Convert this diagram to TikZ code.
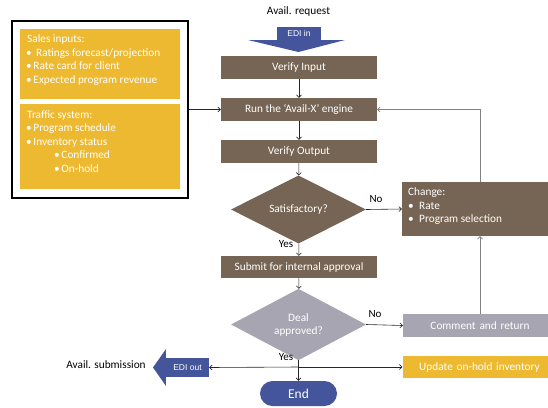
\documentclass[tikz,border=0pt]{standalone}
\usepackage{fontspec}
\setmainfont{Carlito}
\newfontfamily\arialf{Liberation Sans}
\usetikzlibrary{arrows.meta,shapes.geometric}
\definecolor{brn}{RGB}{118,101,84}
\definecolor{gld}{RGB}{237,185,48}
\definecolor{gry}{RGB}{167,165,178}
\definecolor{blu}{RGB}{69,85,155}
\newcommand\bl{\makebox[6.3pt][l]{\hspace{-1pt}•}}
\newcommand\blw{\makebox[11pt][l]{•}}
\begin{document}
\begin{tikzpicture}[x=1pt,y=-1pt,
  txt/.style={font=\fontsize{11.3}{13}\selectfont},
  box/.style={txt, fill=brn, text=white, minimum width=156pt, minimum height=23pt, inner sep=0pt},
  dia/.style={txt, diamond, text=white, minimum width=135pt, minimum height=53pt, inner sep=0pt, align=center},
  rbox/.style={txt, text=white, minimum width=145pt, minimum height=23pt, inner sep=0pt, text width=145pt, align=center},
  lbl/.style={font=\fontsize{11}{13}\selectfont, text=black, inner sep=0pt},
  edi/.style={fill=blu, text=white, inner sep=0pt, font=\arialf\fontsize{8.5}{10}\selectfont},
  con/.style={draw=black!85, line width=0.6pt, -{Straight Barb[length=2.5pt,width=5pt]}},
  gcon/.style={con, draw=black!50},
  list/.style={text=white, anchor=north west, align=left, inner sep=0pt, font=\fontsize{11.3}{13.6}\selectfont}
]
\useasboundingbox (0,0) rectangle (548,407);
% left input panel
\node[draw=black, line width=1.2pt, minimum width=176pt, minimum height=177pt, inner sep=0pt] (outer) at (100,109.5) {};
\node[fill=gld, minimum width=160pt, minimum height=70pt, inner sep=0pt] (sales) at (100,64) {};
\node[fill=gld, minimum width=160pt, minimum height=85pt, inner sep=0pt] (traf) at (100,146.5) {};
\node[list] (salest) at (27,34.5) {Sales inputs:\\ \bl\hspace{2.7pt}Ratings forecast/projection\\ \bl Rate card for client\\ \bl Expected program revenue};
\node[list] (traft) at (27,110) {Traffic system:\\ \bl Program schedule\\ \bl Inventory status\\ \hspace{28pt}\bl Confirmed\\ \hspace{28pt}\bl On-hold};
% top
\node[txt, inner sep=0pt] (req) at (298.5,11) {Avail. request};
\node[edi, minimum width=44pt, minimum height=13pt] (edii) at (299,33.5) {EDI in};
\fill[blu] (edii.south west) -- (248,40) -- (298.5,52) -- (345,40) -- (edii.south east) -- cycle;
% main column
\node[box] (vi) at (299,67.5) {Verify Input};
\node[box] (run) at (299,109.5) {Run the ‘Avail-X’ engine};
\node[box] (vo) at (299,151.5) {Verify Output};
\node[dia, fill=brn] (sat) at (298.5,209.5) {Satisfactory?};
\node[box, minimum height=22pt] (sub) at (299,267) {Submit for internal approval};
\node[dia, fill=gry] (deal) at (298.5,324.5) {Deal\\approved?};
\node[fill=blu, text=white, rounded corners=12.5pt, minimum width=77pt, minimum height=25pt, inner sep=0pt, font=\fontsize{13.5}{15}\selectfont] (end) at (298.5,393.5) {End};
% right column
\node[fill=brn, minimum width=146pt, minimum height=54pt, inner sep=0pt] (chg) at (475,209) {};
\node[list] (chgt) at (408,187.5) {Change:\\ \blw Rate\\ \blw Program selection};
\node[rbox, fill=gry] (cmt) at (475.5,325.5) {\hspace*{9pt}Comment and return};
\node[rbox, fill=gld, minimum height=22pt] (upd) at (475,367) {\hspace*{9pt}Update on-hold inventory};
% EDI out
\node[edi, minimum width=43pt, minimum height=19pt] (edio) at (187.5,367.5) {EDI out};
\fill[blu] (edio.north west) -- (166,349) -- (153,367.5) -- (166,386) -- (edio.south west) -- cycle;
\node[txt, inner sep=0pt] (sbm) at (106,365) {Avail. submission};
% connectors
\draw[con] (outer.east |- run.west) -- (run.west);
\draw[con] (vi) -- (run);
\draw[con] (run) -- (vo);
\draw[con] (vo) -- (sat);
\draw[con] (sat) -- (sub);
\node[lbl] (y1) at (286,244) {Yes};
\draw[con] (sat.east) -- (chg.west);
\node[lbl] (n1) at (376,199) {No};
\draw[gcon] ([xshift=5pt]chg.north) |- (run.east);
\draw[gcon] ([xshift=4.5pt]cmt.north) -- ([xshift=5pt]chg.south);
\draw[con] (sub) -- (deal);
\draw[con] (deal.east) -- (cmt.west);
\node[lbl] (n2) at (375,314) {No};
\draw[con] (deal.south) -- (end.north);
\node[lbl] (y2) at (286,357) {Yes};
\coordinate (j) at (deal.south |- upd.west);
\draw[con] (j) -- (upd.west);
\draw[con] (j) -- (edio.east);
\end{tikzpicture}
\end{document}
